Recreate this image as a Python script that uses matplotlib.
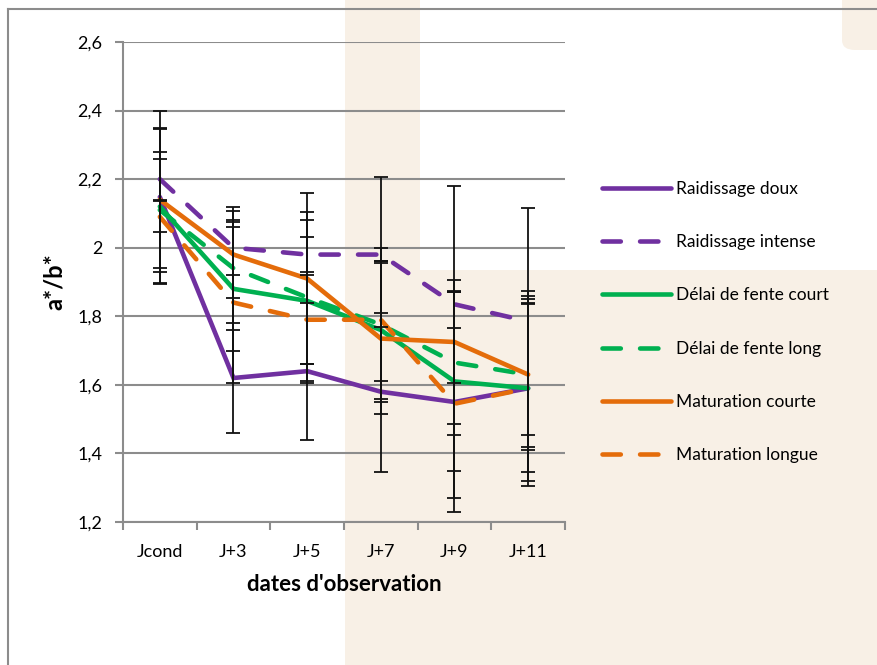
import numpy as np
import matplotlib.pyplot as plt
from matplotlib.patches import Rectangle, FancyBboxPatch
from matplotlib.lines import Line2D

plt.rcParams['font.family'] = ['Lato', 'DejaVu Sans']

dates = ["Jcond", "J+3", "J+5", "J+7", "J+9", "J+11"]
yticks = [1.2, 1.4, 1.6, 1.8, 2.0, 2.2, 2.4, 2.6]
ytick_labels = ["1,2", "1,4", "1,6", "1,8", "2", "2,2", "2,4", "2,6"]

names = ["Raidissage doux", "Raidissage intense", "Délai de fente court",
         "Délai de fente long", "Maturation courte", "Maturation longue"]
raid_doux = [2.148, 1.62, 1.64, 1.58, 1.55, 1.59]
raid_intense = [2.20, 2.00, 1.98, 1.98, 1.835, 1.785]
delai_court = [2.12, 1.88, 1.845, 1.76, 1.61, 1.59]
delai_long = [2.11, 1.94, 1.855, 1.776, 1.665, 1.63]
matur_courte = [2.14, 1.98, 1.91, 1.735, 1.725, 1.63]
matur_longue = [2.09, 1.84, 1.79, 1.79, 1.545, 1.59]

err_raid_doux = [0.25, 0.16, 0.20, 0.03, 0.32, 0.285]
err_raid_intense = [0.06, 0.08, 0.05, 0.02, 0.07, 0.33]
err_delai_court = [0.225, 0.18, 0.235, 0.20, 0.26, 0.27]
err_delai_long = [0.17, 0.18, 0.25, 0.43, 0.21, 0.21]
err_matur_courte = [0.21, 0.127, 0.25, 0.22, 0.455, 0.22]
err_matur_longue = [0.045, 0.235, 0.13, 0.02, 0.06, 0.245]

series = [raid_doux, raid_intense, delai_court, delai_long, matur_courte, matur_longue]
errors = [err_raid_doux, err_raid_intense, err_delai_court, err_delai_long,
          err_matur_courte, err_matur_longue]
colors = ["#7030A0", "#7030A0", "#00B050", "#00B050", "#E46C0A", "#E46C0A"]
dashed = [False, True, False, True, False, True]

beige = "#F8F0E6"
fig = plt.figure(figsize=(8.77, 6.65), dpi=100)
fig.patch.set_facecolor("white")

# background decoration
fig.patches.append(Rectangle((345 / 877, 0), 75 / 877, 1, transform=fig.transFigure,
                             facecolor=beige, edgecolor="none", zorder=-10))
fig.patches.append(Rectangle((420 / 877, 0), 1, (665 - 270) / 665, transform=fig.transFigure,
                             facecolor=beige, edgecolor="none", zorder=-10))
fig.patches.append(FancyBboxPatch((842 / 877, 1 - 50 / 665), 0.1, 0.1,
                                  boxstyle="round,pad=0,rounding_size=0.015",
                                  transform=fig.transFigure, facecolor=beige,
                                  edgecolor="none", zorder=-10))
fig.lines.append(Line2D([8 / 877, 8 / 877], [0, 1 - 9 / 665], transform=fig.transFigure,
                        color="#8c8c8c", lw=1.5))
fig.lines.append(Line2D([8 / 877, 1], [1 - 9 / 665, 1 - 9 / 665], transform=fig.transFigure,
                        color="#8c8c8c", lw=1.5))

ax = fig.add_axes([123 / 877, 1 - 522 / 665, 442 / 877, 480 / 665])
ax.set_facecolor("none")
x = np.arange(len(dates))

for vals, errs, c, d, n in zip(series, errors, colors, dashed, names):
    ls = (0, (4.0, 4.2)) if d else "-"
    ax.plot(x, vals, color=c, lw=3.3, ls=ls, label=n, zorder=3,
            solid_capstyle="round", dash_capstyle="round", solid_joinstyle="miter")
    ax.errorbar(x, vals, yerr=errs, fmt="none", ecolor="#111111", elinewidth=1.3,
                capsize=5, capthick=1.3, zorder=4)

ax.set_xlim(-0.5, len(dates) - 0.5)
ax.set_ylim(1.2, 2.6)
ax.set_yticks(yticks)
ax.set_yticklabels(ytick_labels, fontsize=13)
ax.set_xticks(x)
ax.set_xticklabels(dates, fontsize=13)
ax.set_xticks(np.arange(len(dates) + 1) - 0.5, minor=True)
ax.tick_params(axis="x", which="major", length=0, pad=16)
ax.tick_params(axis="x", which="minor", length=6, color="#8c8c8c", width=1.5)
ax.tick_params(axis="y", length=6, color="#8c8c8c", width=1.5, pad=9)
ax.grid(axis="y", color="#8c8c8c", lw=1.5, zorder=0)
ax.set_axisbelow(True)
for s in ["top", "right"]:
    ax.spines[s].set_visible(False)
for s in ["left", "bottom"]:
    ax.spines[s].set_color("#8c8c8c")
    ax.spines[s].set_linewidth(1.5)

ax.set_xlabel("dates d'observation", fontsize=16, fontweight="bold", labelpad=10)
ax.set_ylabel("a*/b*", fontsize=17, fontweight="bold", labelpad=8)

handles, labels = ax.get_legend_handles_labels()
fig.legend(handles, labels, loc="upper left", bbox_to_anchor=(586 / 877, 1 - 165 / 665),
           frameon=False, fontsize=12.5, handlelength=4.0, handletextpad=0.3,
           labelspacing=2.15)

fig.savefig("out.png", dpi=100, facecolor=fig.get_facecolor())
